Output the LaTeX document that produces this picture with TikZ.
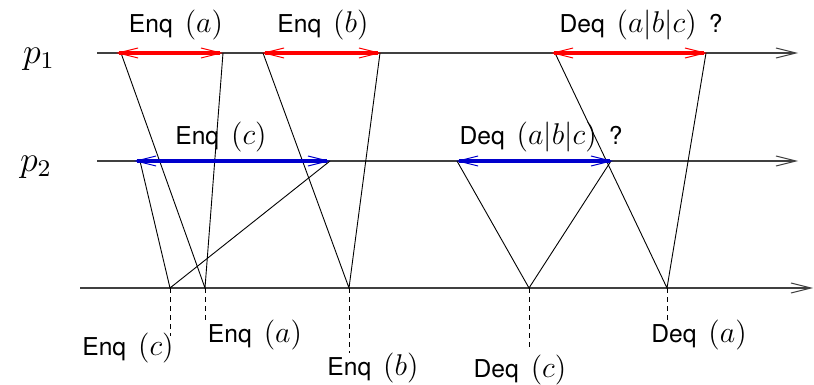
\documentclass[tikz,border=0pt]{standalone}
\usepackage{graphicx}
\usepackage{fontspec}
\setsansfont{TeX Gyre Heros}
\usetikzlibrary{arrows.meta}
\definecolor{intblue}{RGB}{0,0,205}
\newcommand{\mth}[1]{{\fontsize{12}{14}\selectfont\scalebox{1.25}{$#1$}}}
\newcommand{\prc}[1]{{\fontsize{12}{14}\selectfont\scalebox{1.5}{$#1$}}}
\tikzset{
  axisline/.style={draw=black!75, line width=0.6pt, -{Straight Barb[length=10pt,width=5pt,line width=0.5pt]}},
  msgline/.style={draw=black, line width=0.45pt},
  interval/.style={line width=1.7pt, {Straight Barb[length=10pt,width=5pt,line width=0.5pt]}-{Straight Barb[length=10pt,width=5pt,line width=0.5pt]}},
  lbl/.style={inner sep=0pt, font=\fontsize{12.3}{14}\sffamily},
  proc/.style={inner sep=0pt},
  dashline/.style={draw=black, line width=0.45pt, dash pattern=on 2.5pt off 2pt}
}
\begin{document}
\begin{tikzpicture}[x=0.5pt,y=-0.5pt]
\useasboundingbox (0,0) rectangle (814,385);
% axes
\coordinate (p1s) at (97,53);  \coordinate (p1e) at (798,53);
\coordinate (p2s) at (97,161); \coordinate (p2e) at (798,161);
\coordinate (bs) at (80,288);  \coordinate (be) at (813,288);
\draw[axisline] (p1s) -- (p1e);
\draw[axisline] (p2s) -- (p2e);
\draw[axisline] (bs) -- (be);
\node[proc] (lp1) at (39,59) {\prc{p_1}};
\node[proc] (lp2) at (36,167) {\prc{p_2}};
% intervals
\coordinate (a1) at (116,53); \coordinate (a2) at (223,53);
\coordinate (b1) at (262,53); \coordinate (b2) at (381,53);
\coordinate (d1) at (551,53); \coordinate (d2) at (707,53);
\coordinate (c1) at (134,161); \coordinate (c2) at (330,161);
\coordinate (e1) at (456,161); \coordinate (e2) at (613,161);
% message points
\coordinate (sa1) at (121,53); \coordinate (sa2) at (223,53);
\coordinate (sb1) at (263,53); \coordinate (sb2) at (380,53);
\coordinate (sd1) at (555,53); \coordinate (sd2) at (706,53);
\coordinate (sc1) at (140,161); \coordinate (sc2) at (330,161);
\coordinate (se1) at (457,161); \coordinate (se2) at (611,161);
\coordinate (Bc) at (170,288); \coordinate (Ba) at (205,288);
\coordinate (Bb) at (349,288); \coordinate (Bdc) at (529,288);
\coordinate (Bda) at (667,288);
\draw[msgline] (sa1) -- (Ba) -- (sa2);
\draw[msgline] (sc1) -- (Bc) -- (sc2);
\draw[msgline] (sb1) -- (Bb) -- (sb2);
\draw[msgline] (se1) -- (Bdc) -- (se2);
\draw[msgline] (sd1) -- (Bda) -- (sd2);
\draw[interval, red] (a1) -- (a2);
\draw[interval, red] (b1) -- (b2);
\draw[interval, red] (d1) -- (d2);
\draw[interval, intblue] (c1) -- (c2);
\draw[interval, intblue] (e1) -- (e2);
% top labels
\node[lbl] (tEa) at (176,25) {Enq\hspace{6pt}\mth{(a)}};
\node[lbl] (tEb) at (323,25) {Enq\hspace{6pt}\mth{(b)}};
\node[lbl] (tD1) at (641,25) {Deq\hspace{6pt}\mth{(a|b|c)}\hspace{6pt}?};
\node[lbl] (tEc) at (221,137) {Enq\hspace{6pt}\mth{(c)}};
\node[lbl] (tD2) at (541,137) {Deq\hspace{6pt}\mth{(a|b|c)}\hspace{6pt}?};
% dashed drops
\coordinate (dc) at (170,336); \coordinate (da) at (205,322);
\coordinate (db) at (349,353); \coordinate (ddc) at (529,350);
\coordinate (dda) at (667,321);
\draw[dashline] (Bc) -- (dc);
\draw[dashline] (Ba) -- (da);
\draw[dashline] (Bb) -- (db);
\draw[dashline] (Bdc) -- (ddc);
\draw[dashline] (Bda) -- (dda);
% bottom labels
\node[lbl] (bEc) at (128,348) {Enq\hspace{6pt}\mth{(c)}};
\node[lbl] (bEa) at (255,335) {Enq\hspace{6pt}\mth{(a)}};
\node[lbl] (bEb) at (373,368) {Enq\hspace{6pt}\mth{(b)}};
\node[lbl] (bDc) at (520,370) {Deq\hspace{6pt}\mth{(c)}};
\node[lbl] (bDa) at (699,335) {Deq\hspace{6pt}\mth{(a)}};
\end{tikzpicture}
\end{document}
